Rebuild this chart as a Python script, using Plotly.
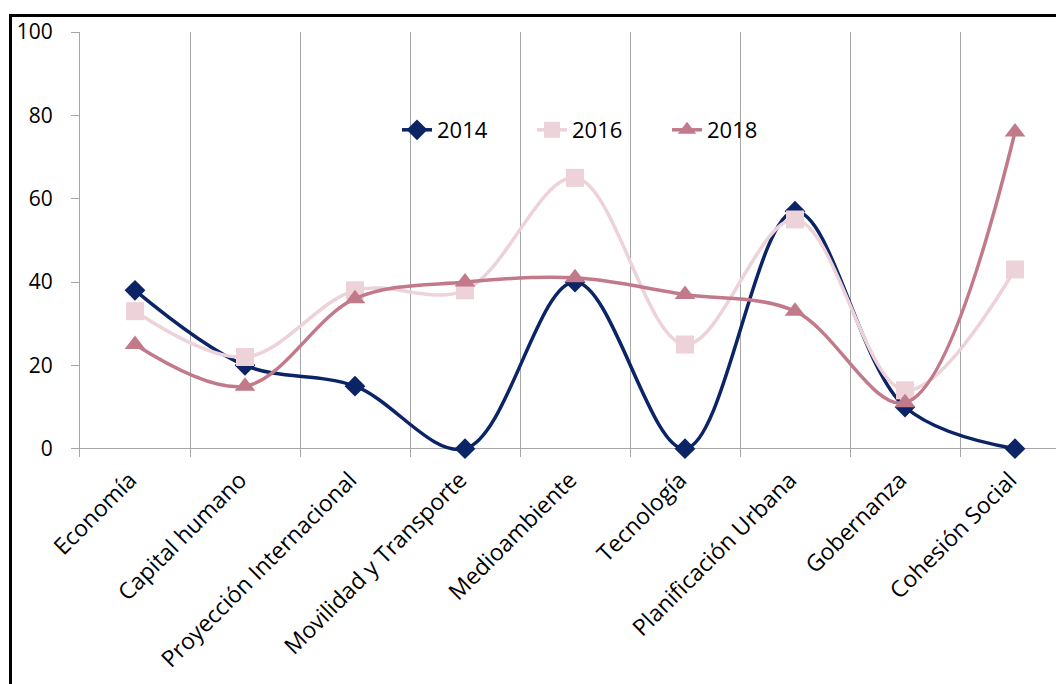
import plotly.graph_objects as go

categories = ["Economía", "Capital humano", "Proyección Internacional", "Movilidad y Transporte",
              "Medioambiente", "Tecnología", "Planificación Urbana", "Gobernanza", "Cohesión Social"]
v2014 = [38, 20, 15, 0, 40, 0, 57, 10, 0]
v2016 = [33, 22, 38, 38, 65, 25, 55, 14, 43]
v2018 = [25, 15, 36, 40, 41, 37, 33, 11, 76]
ytick_vals = [0, 20, 40, 60, 80, 100]

W, H = 1056, 684
ML, MT, MB = 80, 32, 227
FONT = "Open Sans"

fig = go.Figure()
series = [
    ("2014", v2014, "#0B2466", "diamond", 16),
    ("2016", v2016, "#EDD2D9", "square", 18),
    ("2018", v2018, "#C27A8B", "triangle-up", 18),
]
for name, vals, col, sym, ms in series:
    fig.add_trace(go.Scatter(
        x=categories, y=vals, name=name, mode="lines+markers",
        line=dict(color=col, width=3.5, shape="spline", smoothing=1),
        marker=dict(symbol=sym, size=ms, color=col),
        cliponaxis=False,
    ))

plot_w = W - ML
n_visible = plot_w / 110.0
fig.update_layout(
    width=W, height=H,
    margin=dict(l=ML, r=0, t=MT, b=MB, pad=0),
    paper_bgcolor="white", plot_bgcolor="white",
    font=dict(family=FONT, size=20, color="black"),
    showlegend=True,
    legend=dict(orientation="h", x=(397 - ML) / plot_w, xanchor="left",
                y=1 - (130 - MT) / (H - MT - MB), yanchor="middle",
                bgcolor="rgba(0,0,0,0)", font=dict(family=FONT, size=22),
                entrywidth=90, itemsizing="trace"),
    xaxis=dict(type="category", range=[-0.5, -0.5 + n_visible],
               tickson="boundaries", showgrid=True, gridcolor="#A6A6A6", gridwidth=1,
               ticks="", tickangle=-45, showline=False, zeroline=False,
               ticklabelshift=-5, ticklabelstandoff=4,
               tickfont=dict(family=FONT, size=23)),
    yaxis=dict(range=[-2, 100], tickvals=ytick_vals, showgrid=False,
               zeroline=True, zerolinecolor="#A6A6A6", zerolinewidth=1,
               showline=True, linecolor="#A6A6A6", linewidth=1,
               ticks="outside", ticklen=8, tickcolor="#A6A6A6",
               ticklabelstandoff=14,
               tickfont=dict(family=FONT, size=21)),
)

ph = H - MT - MB
fig.add_shape(type="rect", xref="paper", yref="paper",
              x0=(10.5 - ML) / plot_w, x1=1.2,
              y0=-1.0, y1=1 + (MT - 15.5) / ph,
              line=dict(color="black", width=3), fillcolor="rgba(0,0,0,0)", layer="above")

fig.write_html("out.html")
